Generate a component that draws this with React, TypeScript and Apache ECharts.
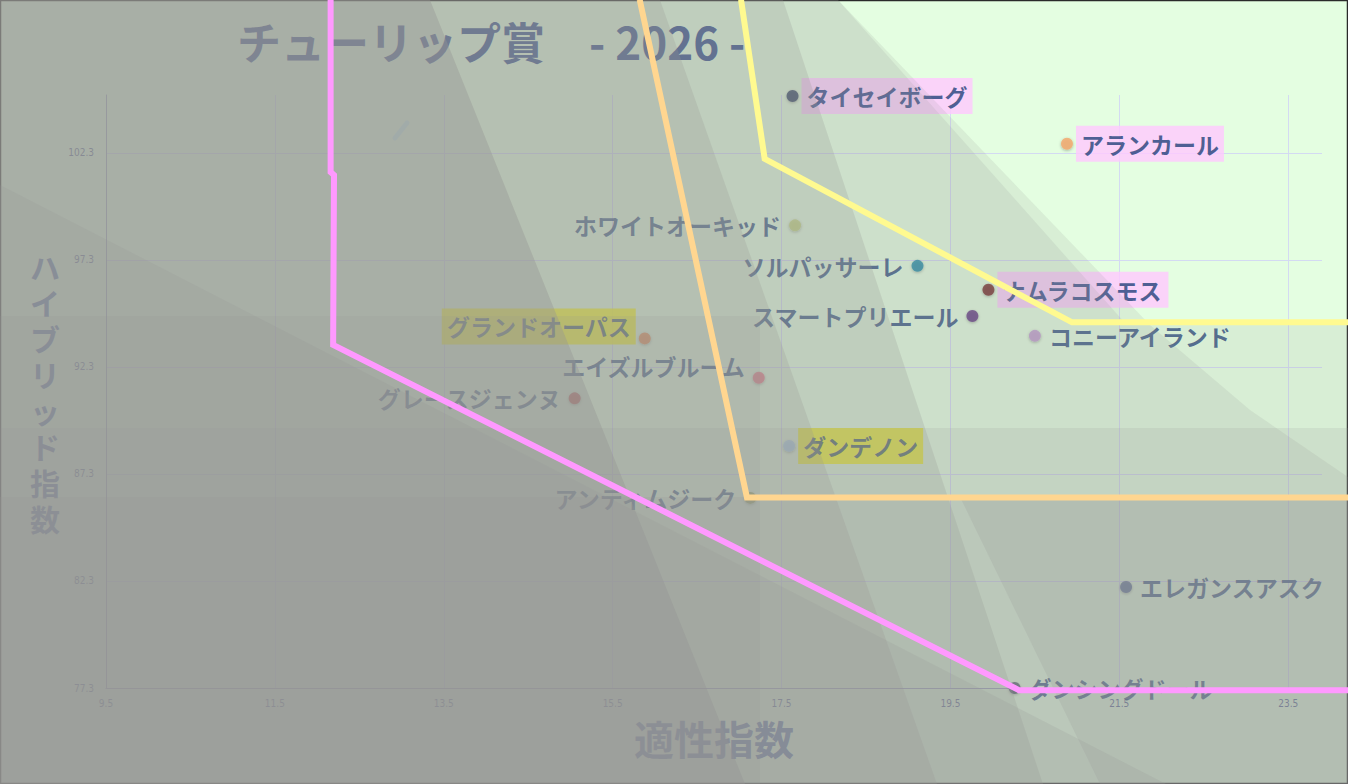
import React, { useEffect, useRef } from 'react';
import * as echarts from 'echarts';

// 馬名ごとの 適性指数 / ハイブリッド指数
const horseNames = [
  'タイセイボーグ', 'アランカール', 'ホワイトオーキッド', 'ソルパッサーレ', 'ナムラコスモス',
  'スマートプリエール', 'コニーアイランド', 'グランドオーパス', 'エイズルブルーム', 'グレースジェンヌ',
  'ダンデノン', 'アンティムジーク', 'エレガンスアスク', 'ダンシングドール',
];
const aptitude = [17.63, 20.88, 17.66, 19.11, 19.95, 19.76, 20.5, 15.88, 17.23, 15.05, 17.59, 17.13, 21.58, 20.26];
const hybrid = [104.95, 102.72, 98.91, 97.02, 95.9, 94.68, 93.75, 93.63, 91.79, 90.83, 88.61, 86.18, 82.02, 77.3];
const dotColors = [
  '#23355a', '#f5a76a', '#c4d67c', '#1a8aa8', '#701f1f', '#5c3080', '#c29ad2',
  '#f08040', '#f06a80', '#c03838', '#a8d0f0', '#94a450', '#4a6090', '#404860',
];
const labelSide = ['right', 'right', 'left', 'left', 'right', 'left', 'right', 'left', 'left', 'left', 'right', 'left', 'right', 'right'];
const labelMark = ['pink', 'pink', '', '', 'pink', '', '', 'yellow', '', '', 'yellow', '', '', ''];
const labelLift = [0, 0, 0, 0, 0, 0, 0, -12, -12, 0, 0, 0, 0, 0];

const xTicks = [9.5, 11.5, 13.5, 15.5, 17.5, 19.5, 21.5, 23.5];
const yTicks = [77.3, 82.3, 87.3, 92.3, 97.3, 102.3];

// ボーダーライン
const pinkBorder = [[12.16, 109.45], [12.16, 101.4], [12.2, 101.26], [12.19, 93.33], [20.31, 77.2], [24.3, 77.2]];
const orangeBorder = [[15.82, 109.45], [17.09, 86.2], [24.3, 86.2]];
const yellowBorder = [[17.02, 109.45], [17.3, 102.02], [20.94, 94.38], [24.3, 94.38]];

const markColors: Record<string, string> = { pink: '#ffc8ff', yellow: '#ffff00' };
const FONT = '"Noto Sans CJK JP", "Noto Sans", sans-serif';
const NARROW = '"Liberation Sans Narrow", "DejaVu Sans Condensed", sans-serif';

// 霞の重ね (canvas px)
const haze: [number, number[][]][] = [
  [0.15, [[0, 0], [838, 0], [1125, 323], [1348, 323], [1348, 784], [0, 784]]],
  [0.15, [[0, 0], [838, 0], [1150, 325], [1250, 410], [1348, 477], [1348, 784], [0, 784]]],
  [0.25, [[0, 0], [783, 0], [1043, 784], [0, 784]]],
  [0.25, [[0, 0], [660, 0], [937, 784], [0, 784]]],
  [0.4, [[0, 0], [430, 0], [745, 784], [0, 784]]],
  [0.15, [[0, 428], [1348, 428], [1348, 784], [0, 784]]],
  [0.18, [[0, 497], [1348, 497], [1348, 784], [0, 784]]],
  [0.2, [[960, 497], [1348, 497], [1348, 784], [1100, 784]]],
  [0.2, [[0, 185], [1166, 784], [0, 784]]],
  [0.15, [[0, 316], [760, 316], [760, 784], [0, 784]]],
];

const App: React.FC = () => {
  const chartRef = useRef<HTMLDivElement>(null);

  useEffect(() => {
    if (!chartRef.current) return;
    const chart = echarts.init(chartRef.current, undefined, { renderer: 'svg' });

    const points = horseNames.map((name, i) => ({
      name,
      value: [aptitude[i], hybrid[i]],
      itemStyle: { color: dotColors[i] },
      label: {
        position: labelSide[i],
        offset: [0, labelLift[i]],
        backgroundColor: labelMark[i] ? markColors[labelMark[i]] : 'transparent',
      },
    }));

    const borderLine = (data: number[][], color: string) => ({
      type: 'custom',
      clip: false,
      silent: true,
      z: 100,
      data: [data[0]],
      renderItem: (_params: any, api: any) => ({
        type: 'polyline',
        shape: { points: data.map((p) => api.coord(p)) },
        style: { stroke: color, lineWidth: 6, fill: null },
      }),
    });

    const option = {
      animation: false,
      backgroundColor: '#e4fee1',
      title: {
        text: 'チューリップ賞　- 2026 -',
        left: 232,
        top: 14,
        textStyle: { fontFamily: FONT, fontSize: 44, fontWeight: 'bold', color: '#3a5590' },
      },
      grid: { left: 106, right: 26, top: 95, bottom: 96 },
      xAxis: {
        type: 'value',
        min: 9.5,
        max: 23.9,
        name: '適性指数',
        nameLocation: 'middle',
        nameGap: 30,
        nameTextStyle: { fontFamily: FONT, fontSize: 40, fontWeight: 'bold', color: '#5570a8' },
        axisLine: { show: true, lineStyle: { color: '#9aa3c4' } },
        axisTick: { show: false, customValues: xTicks },
        axisLabel: { customValues: xTicks, fontSize: 10, fontFamily: NARROW, color: '#5a6a98', margin: 10 },
        splitLine: { show: true, lineStyle: { color: '#d3daf2' } },
      },
      yAxis: {
        type: 'value',
        min: 77.3,
        max: 105,
        name: 'ハ\nイ\nブ\nリ\nッ\nド\n指\n数',
        nameLocation: 'middle',
        nameGap: 46,
        nameRotate: 0,
        nameTextStyle: { fontFamily: FONT, fontSize: 30, lineHeight: 36, fontWeight: 'bold', color: '#5570a8' },
        axisLine: { show: true, lineStyle: { color: '#9aa3c4' } },
        axisTick: { show: false, customValues: yTicks },
        axisLabel: { customValues: yTicks, fontSize: 10, fontFamily: NARROW, color: '#5a6a98', margin: 12 },
        splitLine: { show: true, lineStyle: { color: '#d3daf2' } },
      },
      graphic: [
        {
          type: 'line',
          z: 10,
          shape: { x1: 395, y1: 138, x2: 407, y2: 123 },
          style: { stroke: '#c6eef0', lineWidth: 5, lineCap: 'round' },
        },
        {
          type: 'rect',
          z: 40,
          silent: true,
          shape: { x: 0.5, y: 0.5, width: 1347, height: 783 },
          style: { fill: 'none', stroke: '#2a2a2a', lineWidth: 1.5 },
        },
        ...haze.map(([alpha, pts]) => ({
          type: 'polygon',
          z: 50,
          silent: true,
          shape: { points: pts },
          style: { fill: `rgba(150,150,148,${alpha})` },
        })),
      ],
      series: [
        {
          type: 'scatter',
          symbolSize: 12,
          z: 2,
          itemStyle: { shadowBlur: 3, shadowColor: 'rgba(0,0,0,0.35)', shadowOffsetY: 1 },
          label: {
            show: true,
            formatter: '{b}',
            distance: 3,
            fontFamily: FONT,
            fontSize: 23,
            fontWeight: 'bold',
            lineHeight: 28,
            padding: [4, 5],
            color: '#1e3f78',
          },
          data: points,
        },
        borderLine(pinkBorder, '#ff99ff'),
        borderLine(orangeBorder, '#ffd690'),
        borderLine(yellowBorder, '#fffa90'),
      ],
    };

    chart.setOption(option);
    return () => {
      chart.dispose();
    };
  }, []);

  return (
    <div
      ref={chartRef}
      style={{ position: 'fixed', left: 0, top: 0, width: '1348px', height: '784px' }}
    ></div>
  );
};

export default App;
